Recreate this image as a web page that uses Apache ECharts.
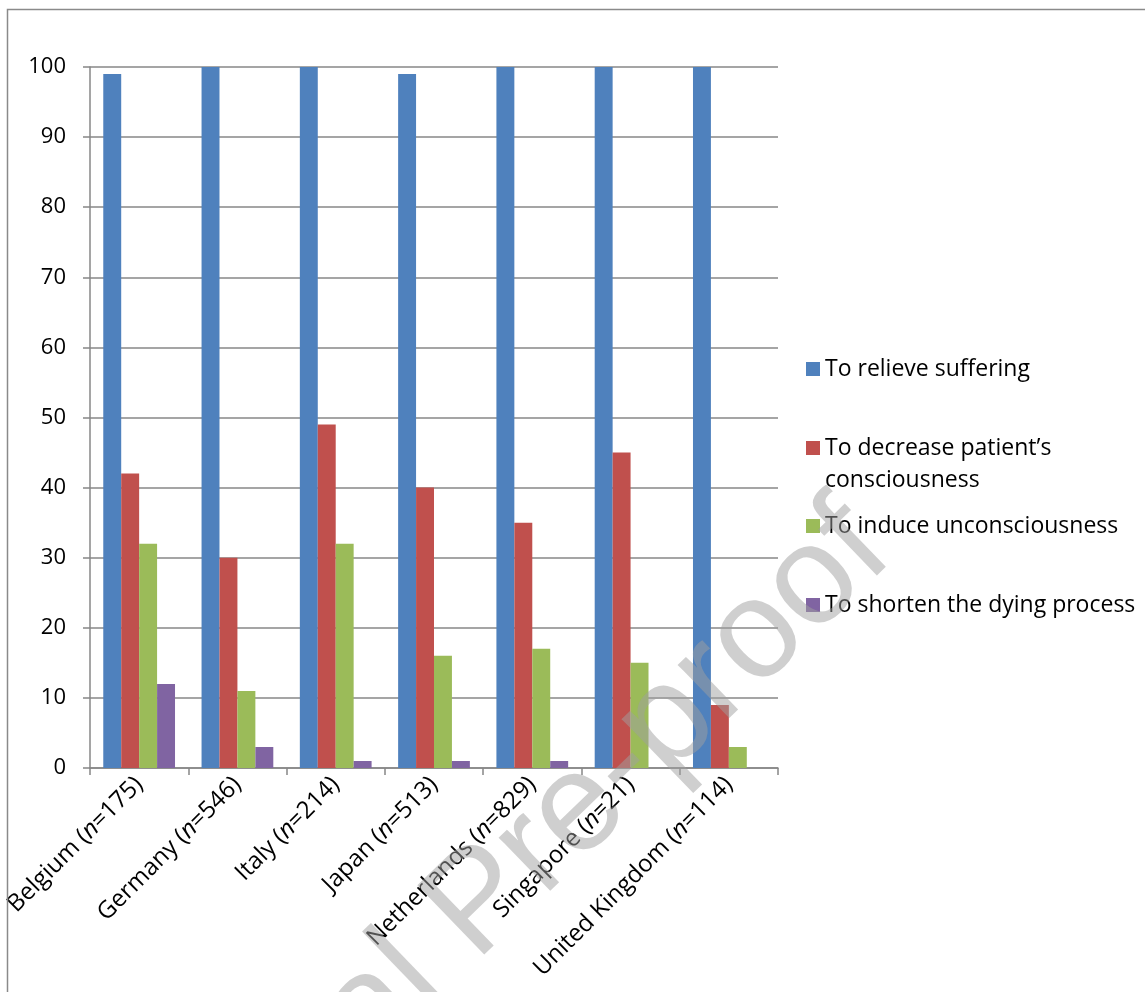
<!DOCTYPE html>
<html>
<head>
<meta charset="utf-8">
<script src="https://cdn.jsdelivr.net/npm/echarts@6/dist/echarts.min.js"></script>
<style>
  html, body { margin: 0; padding: 0; background: #ffffff; }
  #chart { width: 1145px; height: 992px; }
</style>
</head>
<body>
<div id="chart"></div>
<script>
// Countries surveyed and their sample sizes
const countries = ['Belgium', 'Germany', 'Italy', 'Japan', 'Netherlands', 'Singapore', 'United Kingdom'];
const sampleSizes = [175, 546, 214, 513, 829, 21, 114];

// Percentage of respondents per intention
const relieveSuffering   = [99, 100, 100, 99, 100, 100, 100];
const decreaseConscious  = [42, 30, 49, 40, 35, 45, 9];
const induceUnconscious  = [32, 11, 32, 16, 17, 15, 3];
const shortenDying       = [12, 3, 1, 1, 1, 0, 0];

const seriesNames = [
  'To relieve suffering',
  'To decrease patient\u2019s consciousness',
  'To induce unconsciousness',
  'To shorten the dying process'
];
const yTicks = [0, 10, 20, 30, 40, 50, 60, 70, 80, 90, 100];

const colors = ['#4F81BD', '#C0504D', '#9BBB59', '#8064A2'];
const FONT = '"Open Sans", "Liberation Sans", sans-serif';
const FS = 23;
const XFS = 24;
const GRID_GRAY = '#878787';

const categories = countries.map((c, i) => c + ' (n=' + sampleSizes[i] + ')');

function legendAt(name, top, extra) {
  return Object.assign({
    data: [name],
    orient: 'vertical',
    left: 806,
    top: top,
    padding: 0,
    itemWidth: 14,
    itemHeight: 14,
    itemGap: 0,
    icon: 'rect',
    selectedMode: false,
    textStyle: { fontFamily: FONT, fontSize: FS, color: '#000', lineHeight: 26 }
  }, extra || {});
}

const chart = echarts.init(document.getElementById('chart'), null, { renderer: 'canvas' });

const seriesData = [relieveSuffering, decreaseConscious, induceUnconscious, shortenDying];

chart.setOption({
  animation: false,
  backgroundColor: '#ffffff',
  color: colors,
  grid: { left: 90, right: 367, top: 67, bottom: 224, containLabel: false },
  legend: [
    legendAt(seriesNames[0], 356),
    // blank leading line keeps the marker level with the first text line
    legendAt(seriesNames[1], 400, {
      formatter: () => ' \nTo decrease patient\u2019s\nconsciousness',
      textStyle: { fontFamily: FONT, fontSize: FS, color: '#000', lineHeight: 32 }
    }),
    legendAt(seriesNames[2], 513),
    legendAt(seriesNames[3], 592)
  ],
  xAxis: {
    type: 'category',
    data: categories,
    boundaryGap: true,
    axisLine: { show: true, lineStyle: { color: GRID_GRAY, width: 1.5 } },
    axisTick: { show: true, alignWithLabel: false, length: 7, lineStyle: { color: GRID_GRAY, width: 1.5 } },
    axisLabel: {
      interval: 0,
      rotate: 45,
      margin: 13,
      formatter: (v) => {
        const k = v.indexOf('(n=');
        return '{p|' + v.slice(0, k + 1) + '}{i|n}{p|' + v.slice(k + 2) + '}';
      },
      rich: {
        p: { fontFamily: FONT, fontSize: XFS, color: '#000' },
        i: { fontFamily: FONT, fontSize: XFS, color: '#000', fontStyle: 'italic' }
      }
    }
  },
  yAxis: {
    type: 'value',
    min: yTicks[0],
    max: yTicks[yTicks.length - 1],
    interval: 10,
    axisLine: { show: true, lineStyle: { color: GRID_GRAY, width: 1.5 } },
    axisTick: { show: true, length: 7, lineStyle: { color: GRID_GRAY, width: 1.5 } },
    splitLine: { show: true, lineStyle: { color: GRID_GRAY, width: 1.5 } },
    axisLabel: { margin: 24, fontFamily: FONT, fontSize: 22, color: '#000' }
  },
  series: seriesData.map((d, i) => ({
    name: seriesNames[i],
    type: 'bar',
    data: d,
    barGap: '0%',
    barCategoryGap: '27%',
    itemStyle: { color: colors[i] }
  })),
  graphic: [
    {
      type: 'rect',
      silent: true,
      shape: { x: 7.5, y: 9.5, width: 1300, height: 1200 },
      style: { fill: 'none', stroke: '#8a8a8a', lineWidth: 1.5 },
      z: 50
    },
    {
      type: 'text',
      silent: true,
      x: 480,
      y: 905,
      rotation: 44 * Math.PI / 180,
      style: {
        text: 'Journal Pre-proof',
        font: '140px "Liberation Sans", sans-serif',
        fill: '#a0a0a0',
        opacity: 0.5,
        align: 'center',
        verticalAlign: 'middle'
      },
      z: 100
    }
  ]
});
</script>
</body>
</html>
